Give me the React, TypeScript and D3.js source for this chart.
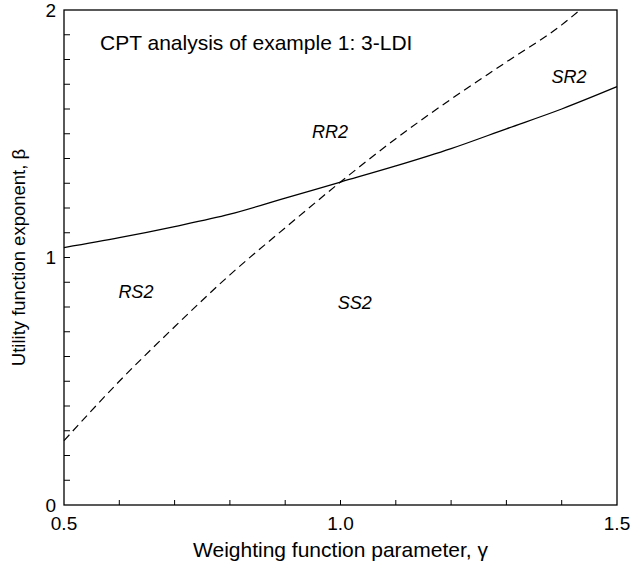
import React, { useEffect, useRef } from "react";
import * as d3 from "d3";

// solid boundary (RR2/RS2 vs SR2/SS2)
const solidGamma = [0.5, 0.6, 0.7, 0.8, 0.9, 1.0, 1.1, 1.2, 1.3, 1.4, 1.5];
const solidBeta = [1.04, 1.08, 1.125, 1.175, 1.24, 1.305, 1.37, 1.44, 1.52, 1.6, 1.69];

// dashed boundary
const dashGamma = [0.5, 0.6, 0.7, 0.8, 0.9, 1.0, 1.1, 1.2, 1.3, 1.4, 1.433];
const dashBeta = [0.26, 0.5, 0.72, 0.93, 1.12, 1.305, 1.48, 1.64, 1.79, 1.94, 2.0];

const xTicks = [0.5, 1.0, 1.5];
const yTicks = [0, 1, 2];

const regionLabels = ["RR2", "SR2", "RS2", "SS2"];
const regionGamma = [0.981, 1.413, 0.63, 1.026];
const regionBeta = [1.483, 1.705, 0.836, 0.79];

const App = () => {
  const ref = useRef(null);

  useEffect(() => {
    const svgEl = ref.current;
    if (!svgEl) return;
    const svg = d3.select(svgEl);
    svg.selectAll("*").remove();

    const margin = { top: 10, right: 14, bottom: 66, left: 64 };
    const width = 631 - margin.left - margin.right;
    const height = 571 - margin.top - margin.bottom;
    const font = "'Liberation Sans', Arial, sans-serif";

    const g = svg.append("g").attr("transform", `translate(${margin.left},${margin.top})`);

    const x = d3.scaleLinear().domain([0.5, 1.5]).range([0, width]);
    const y = d3.scaleLinear().domain([0, 2]).range([height, 0]);

    // frame
    g.append("rect")
      .attr("width", width)
      .attr("height", height)
      .attr("fill", "none")
      .attr("stroke", "#000")
      .attr("stroke-width", 1.3);

    // inward ticks every 0.1 on x and y
    const xMinor = d3.range(6, 15).map((d) => d / 10);
    const yMinor = d3.range(1, 20).map((d) => d / 10);
    g.selectAll(".xt")
      .data(xMinor)
      .enter()
      .append("line")
      .attr("x1", (d) => x(d))
      .attr("x2", (d) => x(d))
      .attr("y1", height)
      .attr("y2", height - 5)
      .attr("stroke", "#000");
    g.selectAll(".yt")
      .data(yMinor)
      .enter()
      .append("line")
      .attr("x1", 0)
      .attr("x2", 6)
      .attr("y1", (d) => y(d))
      .attr("y2", (d) => y(d))
      .attr("stroke", "#000");

    g.selectAll(".xl")
      .data(xTicks)
      .enter()
      .append("text")
      .attr("x", (d) => x(d))
      .attr("y", height + 25)
      .attr("text-anchor", "middle")
      .attr("font-family", font)
      .attr("font-size", 19)
      .text((d) => d.toFixed(1));
    g.selectAll(".yl")
      .data(yTicks)
      .enter()
      .append("text")
      .attr("x", -8)
      .attr("y", (d) => y(d) + 6.5)
      .attr("text-anchor", "end")
      .attr("font-family", font)
      .attr("font-size", 19)
      .text((d) => d);

    const line = d3
      .line<number>()
      .x((d, i) => x(d))
      .curve(d3.curveMonotoneX);

    g.append("path")
      .attr("d", line.y((d, i) => y(solidBeta[i]))(solidGamma))
      .attr("fill", "none")
      .attr("stroke", "#000")
      .attr("stroke-width", 1.3);

    g.append("path")
      .attr("d", line.y((d, i) => y(dashBeta[i]))(dashGamma))
      .attr("fill", "none")
      .attr("stroke", "#000")
      .attr("stroke-width", 1.2)
      .attr("stroke-dasharray", "8,5");

    g.selectAll(".rl")
      .data(regionLabels)
      .enter()
      .append("text")
      .attr("x", (d, i) => x(regionGamma[i]))
      .attr("y", (d, i) => y(regionBeta[i]))
      .attr("text-anchor", "middle")
      .attr("font-family", font)
      .attr("font-style", "italic")
      .attr("font-size", 18)
      .text((d) => d);

    g.append("text")
      .attr("x", 36)
      .attr("y", 40)
      .attr("font-family", font)
      .attr("font-size", 21)
      .text("CPT analysis of example 1: 3-LDI");

    g.append("text")
      .attr("x", width / 2)
      .attr("y", height + 52)
      .attr("text-anchor", "middle")
      .attr("font-family", font)
      .attr("font-size", 21)
      .text("Weighting function parameter, γ");

    g.append("text")
      .attr("transform", `translate(-39,${height / 2}) rotate(-90)`)
      .attr("text-anchor", "middle")
      .attr("font-family", font)
      .attr("font-size", 18.5)
      .text("Utility function exponent, β");
  }, []);

  return <svg ref={ref} width={631} height={571} style={{ display: "block", position: "absolute", left: 0, top: 0 }} />;
};

export default App;
